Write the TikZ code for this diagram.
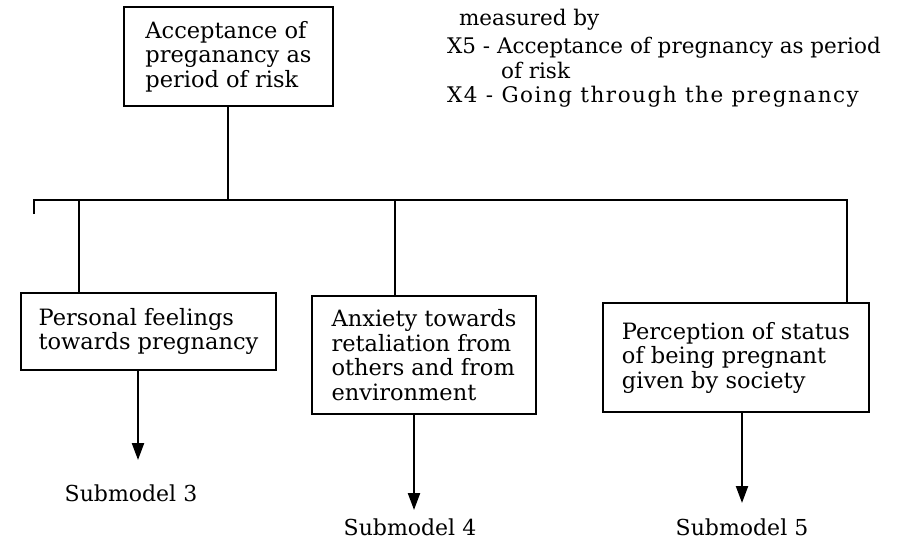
\documentclass[tikz,border=0pt]{standalone}
\usepackage{fontspec}
\setmainfont{DejaVu Serif}
\usetikzlibrary{arrows.meta}
\begin{document}
\begin{tikzpicture}[x=1pt,y=-1pt,
  line width=2.2pt,
  box/.style={draw, rectangle, align=left, inner sep=0pt,
    font=\fontsize{22.5}{24.5}\selectfont},
  note/.style={anchor=west, inner sep=0pt, font=\fontsize{21.5}{24}\selectfont},
  sub/.style={inner sep=0pt, font=\fontsize{22}{24}\selectfont},
  arr/.style={-{Triangle[width=12pt,length=17pt]}}]
\useasboundingbox (0,0) rectangle (910,541);

% top concept
\node[box, minimum width=209pt, minimum height=99pt]
  (top) at (228.5,56.5) {Acceptance of\\preganancy as\\period of risk};

% measurement note
\node[note] (m0) at (458,20) {measured by};
\node[note] (m1) at (446,48) {X5 - Acceptance of pregnancy as period};
\node[note] (m2) at (500,70) {of risk};
\node[note] (m3) at (446,97) {\addfontfeature{LetterSpace=7}X4 - Going through the pregnancy};

% distribution bar
\coordinate (barL) at (34,200);
\coordinate (barR) at (847,200);
\coordinate (tick) at (34,214);
\coordinate (j0) at (228,200);
\coordinate (j1) at (79,200);
\coordinate (j2) at (395,200);

% sub-concepts
\node[box, minimum width=255pt, minimum height=77pt]
  (b1) at (148.5,331.5) {Personal feelings\\towards pregnancy};
\node[box, minimum width=224pt, minimum height=118pt]
  (b2) at (424,355) {Anxiety towards\\retaliation from\\others and from\\environment};
\node[box, minimum width=266pt, minimum height=109pt]
  (b3) at (736,357.5) {Perception of status\\of being pregnant\\given by society};

% submodel labels
\node[sub] (s1) at (131,493) {Submodel 3};
\node[sub] (s2) at (410,527) {Submodel 4};
\node[sub] (s3) at (742,527) {Submodel 5};
\coordinate (a1) at (138,460);
\coordinate (a2) at (414,510);
\coordinate (a3) at (742,503);

% connectors
\draw (top.south -| j0) -- (j0);
\draw (tick) -- (barL) -- (barR) -- (barR |- b3.north);
\draw (j1) -- (j1 |- b1.north);
\draw (j2) -- (j2 |- b2.north);
\draw[arr] (b1.south -| a1) -- (a1);
\draw[arr] (b2.south -| a2) -- (a2);
\draw[arr] (b3.south -| a3) -- (a3);
\end{tikzpicture}
\end{document}
